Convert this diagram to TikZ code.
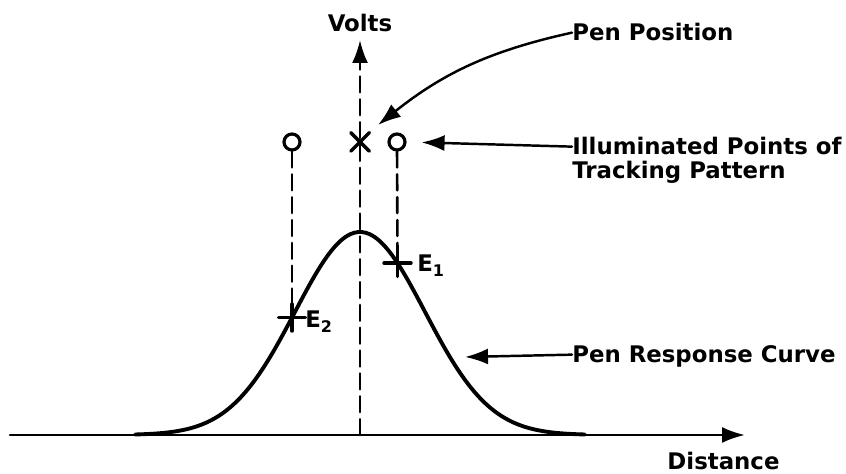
\documentclass[tikz,border=0pt]{standalone}
\usepackage{fontspec}
\setmainfont{DejaVu Sans}
\usetikzlibrary{arrows.meta,positioning,shapes.misc}

\begin{document}
\begin{tikzpicture}[>={Latex[length=4.6mm,width=3.2mm]},line cap=round,
  font=\fontsize{13}{15}\selectfont\bfseries,
  lbl/.style={inner sep=0pt,text height=9.5pt,text depth=0pt,anchor=base west},
  dsh/.style={line width=1.5pt,dash pattern=on 9pt off 4pt},
  hole/.style={circle,draw,line width=1.8pt,minimum size=0.32cm,inner sep=0pt},
  plusmark/.style={cross out,draw,rotate=45,line width=2pt,minimum size=0.31cm,inner sep=0pt}]
\useasboundingbox (0,0) rectangle (16.92,9.48);
\coordinate (o) at (0.2,0.78);
\coordinate (xend) at (14.9,0.78);
\coordinate (base) at (7.2,0.78);
\coordinate (yend) at (7.2,8.68);
\draw[->,line width=1.5pt] (o) -- (xend);
\draw[->,dsh] (base) -- (yend);
\node[lbl,anchor=base] (volts) at (7.2,8.84) {Volts};
\node[lbl,anchor=base] (dist) at (14.47,0.08) {Distance};
\draw[line width=2.2pt,domain=2.7:11.7,samples=120,smooth]
  plot (\x,{0.78+4.06*exp(-(\x-7.2)^2/3.38)});
\node[hole] (ptL) at (5.84,6.64) {};
\node[hole] (ptR) at (7.94,6.64) {};
\node[cross out,draw,line width=2pt,minimum size=0.3cm,inner sep=0pt] (pen) at (7.2,6.64) {};
\node[plusmark] (pOne) at (7.95,{0.78+4.06*exp(-(0.75)^2/3.38)}) {};
\node[plusmark] (pTwo) at (5.84,{0.78+4.06*exp(-(1.36)^2/3.38)}) {};
\draw[dsh] (ptL) -- (pTwo.center);
\draw[dsh] (ptR) -- (pOne.center);
\node[lbl] (eOne) at (8.34,4.04) {E\textsubscript{1}};
\node[lbl] (eTwo) at (6.1,2.92) {E\textsubscript{2}};
\node[lbl] (posLbl) at (11.44,8.66) {Pen Position};
\node[lbl] (illum) at (11.44,6.38) {Illuminated Points of};
\node[lbl] (track) at (11.44,5.90) {Tracking Pattern};
\node[lbl] (respLbl) at (11.44,2.22) {Pen Response Curve};
\coordinate (penTip) at (7.56,6.98);
\coordinate (curveTip) at (9.3,2.34);
\draw[->,line width=1.4pt] (posLbl.west) to[bend right=13] (penTip);
\draw[->,line width=1.4pt,shorten >=0.3cm] (illum.west) -- (ptR.east);
\draw[->,line width=1.4pt] (respLbl.west) -- (curveTip);
\end{tikzpicture}
\end{document}
